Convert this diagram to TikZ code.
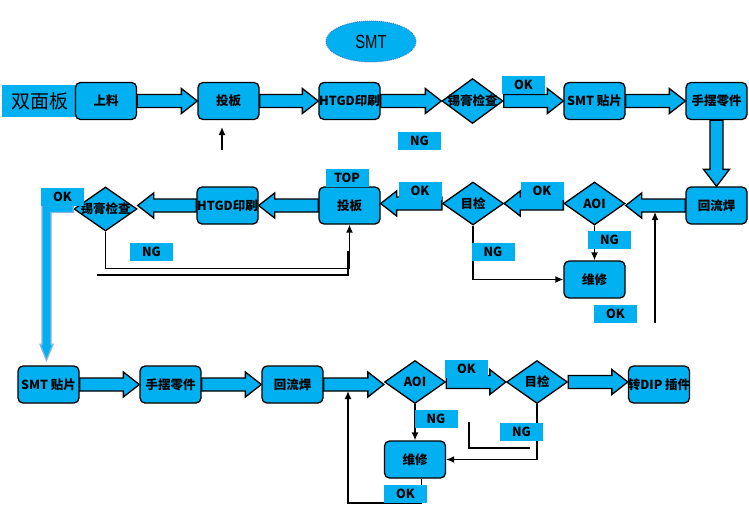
\documentclass[tikz,border=0pt]{standalone}
\usepackage{fontspec}
\usetikzlibrary{shapes.geometric,calc,arrows.meta}
\newfontfamily\cjk{Noto Sans CJK SC}
\newfontfamily\narrowsans{Liberation Sans}[FakeStretch=0.78]
\definecolor{cyanbox}{HTML}{00B0F0}
\definecolor{bentblue}{HTML}{8EB4E3}
\definecolor{ovalblue}{HTML}{3D7CC9}

\tikzset{
  box/.style={draw=black, line width=1.3pt, fill=cyanbox, rounded corners=5pt,
    minimum width=61pt, minimum height=37pt, inner sep=0pt,
    font=\cjk\bfseries\fontsize{12.5}{13}\selectfont},
  dia/.style={draw=black, line width=1.3pt, fill=cyanbox, diamond, inner sep=0pt,
    minimum width=61pt, minimum height=43pt,
    font=\cjk\bfseries\fontsize{12.5}{13}\selectfont},
  tag/.style={fill=cyanbox, minimum width=43pt, minimum height=18pt, inner sep=0pt,
    font=\cjk\bfseries\fontsize{12.5}{13}\selectfont},
  blockarr/.style={draw=black, line width=1.3pt, fill=cyanbox},
  wire/.style={draw=black, line width=1.4pt},
  wirearr/.style={wire, -{Latex[length=8pt,width=7pt]}}
}

% săgeți bloc
\newcommand{\rarrow}[2]{%
  \path[blockarr] let \p1=(#1.east), \p2=(#2.west) in
    (\x1,\y1+6.5pt) -- (\x2-16pt,\y1+6.5pt) -- (\x2-16pt,\y1+12.5pt) -- (\x2,\y1)
    -- (\x2-16pt,\y1-12.5pt) -- (\x2-16pt,\y1-6.5pt) -- (\x1,\y1-6.5pt) -- cycle;}
\newcommand{\larrow}[2]{%
  \path[blockarr] let \p1=(#1.west), \p2=(#2.east) in
    (\x1,\y1+6.5pt) -- (\x2+16pt,\y1+6.5pt) -- (\x2+16pt,\y1+12.5pt) -- (\x2,\y1)
    -- (\x2+16pt,\y1-12.5pt) -- (\x2+16pt,\y1-6.5pt) -- (\x1,\y1-6.5pt) -- cycle;}
\newcommand{\darrow}[2]{%
  \path[blockarr] let \p1=(#1.south), \p2=(#2.north) in
    (\x1-6.5pt,\y1) -- (\x1-6.5pt,\y2+17pt) -- (\x1-13pt,\y2+17pt) -- (\x1,\y2)
    -- (\x1+13pt,\y2+17pt) -- (\x1+6.5pt,\y2+17pt) -- (\x1+6.5pt,\y1) -- cycle;}

\begin{document}
\begin{tikzpicture}[x=1pt,y=-1pt]
  \useasboundingbox (0,0) rectangle (749,517);

  % titlu
  \node[ellipse, fill=cyanbox, draw=ovalblue, densely dotted, line width=1pt,
    minimum width=90pt, minimum height=41pt, inner sep=0pt,
    font=\narrowsans\fontsize{19}{20}\selectfont] (smt) at (371,41.5) {SMT};
  \node[fill=cyanbox, minimum width=75pt, minimum height=32pt, inner sep=0pt,
    font=\cjk\fontsize{19}{20}\selectfont] (dual) at (39.5,101) {双面板};

  % rândul de sus
  \node[box] (tl) at (106,101) {上料};
  \node[box] (tt) at (228.5,101) {投板};
  \node[box] (tp) at (349.5,101) {\makebox[0pt]{HTGD印刷}};
  \node[dia, minimum height=45pt] (ts) at (472.5,101) {\makebox[0pt]{锡膏检查}};
  \node[box] (tm) at (594.5,101) {SMT 贴片};
  \node[box] (th) at (716.5,101) {手摆零件};

  % rândul din mijloc
  \node[box] (mh) at (716.5,205.5) {回流焊};
  \node[dia] (ma) at (594.5,203.5) {AOI};
  \node[dia] (mj) at (473,203.5) {目检};
  \node[box] (mt) at (349.5,205.5) {投板};
  \node[box] (mp) at (227.5,205.5) {\makebox[0pt]{HTGD印刷}};
  \node[dia, minimum width=63pt, minimum height=44pt] (ms) at (105.5,209) {\makebox[0pt]{锡膏检查}};
  \node[box] (mw) at (594.5,279.5) {维修};

  % rândul de jos
  \node[box] (bm) at (48.5,384.5) {SMT 贴片};
  \node[box] (bh) at (170.5,384.5) {手摆零件};
  \node[box] (br) at (292.5,384.5) {回流焊};
  \node[dia] (ba) at (415,382) {AOI};
  \node[dia] (bj) at (537,382) {目检};
  \node[box] (bd) at (659,384.5) {\makebox[0pt]{转DIP 插件}};
  \node[box] (bw) at (415,459.5) {维修};

  % săgeți
  \rarrow{tl}{tt}
  \rarrow{tt}{tp}
  \rarrow{tp}{ts}
  \rarrow{ts}{tm}
  \rarrow{tm}{th}
  \darrow{th}{mh}
  \larrow{mh}{ma}
  \larrow{ma}{mj}
  \larrow{mj}{mt}
  \larrow{mt}{mp}
  \larrow{mp}{ms}
  \path[draw=bentblue, fill=cyanbox, line width=1.3pt] let \p1=(ms.west), \p2=(bm.north) in
    (\x1,\y1+3.5pt) -- (\x2-6.5pt,\y1+3.5pt) -- (\x2-6.5pt,\y2+21pt) -- (\x2-8.5pt,\y2+21pt)
    -- (\x2-2pt,\y2+5pt) -- (\x2+4.5pt,\y2+21pt) -- (\x2+2.5pt,\y2+21pt)
    -- (\x2+2.5pt,\y1-3.5pt) -- (\x1,\y1-3.5pt) -- cycle;
  \rarrow{bm}{bh}
  \rarrow{bh}{br}
  \rarrow{br}{ba}
  \rarrow{ba}{bj}
  \rarrow{bj}{bd}

  % linii
  \coordinate (up1) at (222,150);
  \coordinate (up1t) at (222,127);
  \draw[wirearr] (up1) -- (up1t);
  \draw[wirearr] (ms.south) |- ($(mt.south)+(0,44)$) -- (mt.south);
  \coordinate (ngl) at (97,275);
  \draw[wire] (ngl) -| ($(mt.south)+(-1.5,26)$);
  \draw[wirearr] (mj.south) |- (mw.west);
  \draw[wirearr] (ma.south) -- (mw.north);
  \coordinate (okm) at (655,323);
  \draw[wirearr] (okm) -- ($(okm |- mh.west)+(0,6.5)$);
  \draw[wirearr] (ba.south) -- (bw.north);
  \draw[wirearr] (bj.south) |- (bw.east);
  \coordinate (okb) at (348,503);
  \draw[wirearr] ($(bw.south)+(6.5,0)$) |- (okb) -- ($(okb |- br.east)+(0,6.5)$);
  \coordinate (l1) at (469,422);
  \coordinate (l2) at (530,448);
  \draw[wire] (l1) |- (l2);

  % etichete
  \node[tag] (ok1) at (523.5,85) {OK};
  \node[tag] (ng1) at (419.5,141) {NG};
  \node[tag] (top) at (347,177.5) {TOP};
  \node[tag] (ok2) at (420,190.5) {OK};
  \node[tag] (ok3) at (542,190.5) {OK};
  \node[tag] (ok4) at (62.5,196.5) {OK};
  \node[tag] (ng2) at (609.5,240) {NG};
  \node[tag] (ng3) at (493,252) {NG};
  \node[tag] (ng4) at (151.5,252) {NG};
  \node[tag] (ok5) at (615.5,314) {OK};
  \node[tag] (ok6) at (466.5,369) {OK};
  \node[tag] (ng5) at (436,419) {NG};
  \node[tag] (ng6) at (521.5,432) {NG};
  \node[tag] (ok7) at (405.5,493.5) {OK};
\end{tikzpicture}
\end{document}
